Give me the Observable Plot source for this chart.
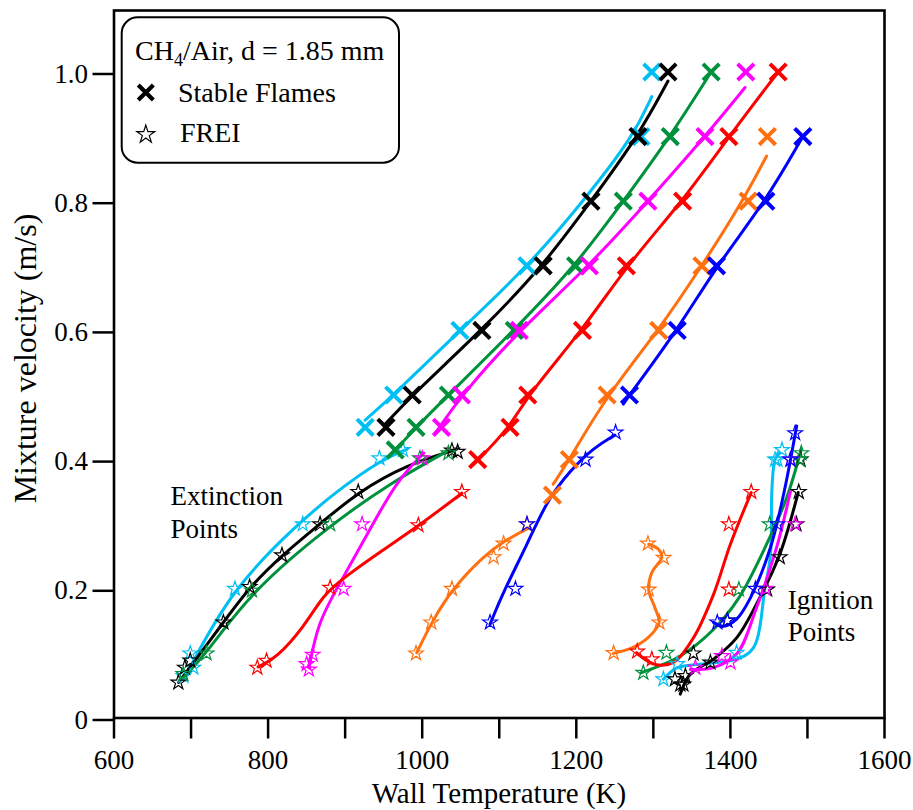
<!DOCTYPE html>
<html><head><meta charset="utf-8">
<script src="https://cdn.jsdelivr.net/npm/d3@7"></script>
<script src="https://cdn.jsdelivr.net/npm/@observablehq/plot@0.6"></script>
<style>body{margin:0;background:#fff}#chart{width:913px;height:810px}</style>
</head><body><div id="chart"></div>
<script>
// ---------- data (Wall temperature K, mixture velocity m/s) ----------
const series = ["s1","s2","s3","s4","s5","s6","s7"];
const seriesColor = ["#00bff2","#000000","#00913c","#ff00ff","#ff0000","#ff7010","#0000ff"];

const xTicks = [600,700,800,900,1000,1100,1200,1300,1400,1500,1600];
const xTickLabels = [600,800,1000,1200,1400,1600];
const yTicks = [0,0.2,0.4,0.6,0.8,1.0];

const stableFlames = [
 ["s1",926,0.45],["s1",963,0.5],["s1",1049,0.6],["s1",1136,0.7],["s1",1284,0.9],["s1",1298,1.0],
 ["s2",953,0.45],["s2",987,0.5],["s2",1077.5,0.6],["s2",1157,0.7],["s2",1219,0.8],["s2",1280,0.9],["s2",1319,1.0],
 ["s3",965,0.415],["s3",992,0.45],["s3",1034,0.5],["s3",1119.5,0.6],["s3",1199,0.7],["s3",1261,0.8],["s3",1322,0.9],["s3",1375,1.0],
 ["s4",1025,0.45],["s4",1051,0.5],["s4",1126,0.6],["s4",1217,0.7],["s4",1293,0.8],["s4",1367,0.9],["s4",1420,1.0],
 ["s5",1072,0.4],["s5",1114,0.45],["s5",1137,0.5],["s5",1208,0.6],["s5",1265,0.7],["s5",1338,0.8],["s5",1398,0.9],["s5",1462,1.0],
 ["s6",1169,0.345],["s6",1191,0.4],["s6",1240,0.5],["s6",1307,0.6],["s6",1363,0.7],["s6",1423,0.8],["s6",1448,0.9],
 ["s7",1269,0.5],["s7",1331,0.6],["s7",1382,0.7],["s7",1446,0.8],["s7",1494,0.9]
];

const stableFits = [
 ["s1",926,0.461],["s1",963,0.5],["s1",1049,0.6],["s1",1138,0.7],["s1",1209,0.8],["s1",1274,0.9],["s1",1298,0.962],
 ["s2",952,0.455],["s2",987,0.5],["s2",1077,0.6],["s2",1157,0.7],["s2",1219,0.8],["s2",1280,0.9],["s2",1319,0.986],
 ["s3",960,0.408],["s3",992,0.45],["s3",1034,0.5],["s3",1119,0.6],["s3",1199,0.7],["s3",1261,0.8],["s3",1322,0.9],["s3",1375,1.0],
 ["s4",1017,0.441],["s4",1051,0.5],["s4",1126,0.6],["s4",1217,0.7],["s4",1293,0.8],["s4",1367,0.9],["s4",1419,0.976],
 ["s5",1067,0.393],["s5",1114,0.45],["s5",1137,0.5],["s5",1208,0.6],["s5",1265,0.7],["s5",1338,0.8],["s5",1398,0.9],["s5",1462,1.0],
 ["s6",1170,0.362],["s6",1191,0.4],["s6",1240,0.5],["s6",1307,0.6],["s6",1363,0.7],["s6",1416,0.8],["s6",1447,0.87],
 ["s7",1261,0.486],["s7",1269,0.5],["s7",1331,0.6],["s7",1382,0.7],["s7",1446,0.8],["s7",1494,0.9]
];

const extinctionPoints = [
 ["s1",690,0.065],["s1",699,0.1],["s1",703,0.078],["s1",757,0.2],["s1",845,0.3],["s1",944.5,0.402],["s1",975,0.415],
 ["s2",683.5,0.055],["s2",692,0.078],["s2",699,0.089],["s2",742,0.148],["s2",776,0.203],["s2",818,0.252],["s2",867.5,0.3],["s2",917,0.35],["s2",1038.6,0.414],["s2",1046,0.412],
 ["s3",690,0.068],["s3",720,0.1],["s3",779,0.1975],["s3",880.5,0.3],["s3",997,0.402],["s3",1034,0.41],
 ["s4",850,0.0835],["s4",853,0.075],["s4",858,0.098],["s4",898,0.2],["s4",922,0.3],["s4",1000,0.402],
 ["s5",786,0.078],["s5",798,0.0886],["s5",880.5,0.2017],["s5",995,0.2986],["s5",1051.5,0.35],
 ["s6",992,0.1],["s6",1011.7,0.148],["s6",1038.6,0.2],["s6",1092.6,0.249],["s6",1105.6,0.27],["s6",1136,0.3],
 ["s7",1088,0.148],["s7",1121,0.2],["s7",1136,0.3],["s7",1212,0.4],["s7",1251,0.442]
];

const extinctionFits = [
 ["s1",694,0.068],["s1",753,0.2],["s1",838,0.3],["s1",890,0.352],["s1",946,0.399],["s1",980,0.416],
 ["s2",684,0.055],["s2",742,0.148],["s2",776,0.203],["s2",818,0.252],["s2",867,0.3],["s2",917,0.35],["s2",980,0.392],["s2",1040,0.414],
 ["s3",688,0.06],["s3",720,0.1],["s3",779,0.197],["s3",880,0.298],["s3",960,0.365],["s3",1034,0.414],
 ["s4",853,0.078],["s4",865,0.148],["s4",889,0.2],["s4",936,0.3],["s4",967,0.367],["s4",1002,0.41],
 ["s5",787,0.079],["s5",811,0.093],["s5",846,0.14],["s5",872,0.191],["s5",898,0.217],["s5",950,0.261],["s5",995,0.297],["s5",1051.5,0.348],
 ["s6",993,0.101],["s6",1012,0.148],["s6",1039,0.2],["s6",1079,0.25],["s6",1106,0.274],["s6",1140,0.295],
 ["s7",1088,0.145],["s7",1106,0.197],["s7",1136,0.268],["s7",1162,0.337],["s7",1192,0.383],["s7",1222,0.418],["s7",1250,0.438]
];

const ignitionPoints = [
 ["s1",1313,0.06],["s1",1331,0.0835],["s1",1408,0.101],["s1",1458,0.4],["s1",1461,0.4],["s1",1467,0.415],
 ["s2",1328,0.06],["s2",1335,0.052],["s2",1339,0.052],["s2",1341.6,0.065],["s2",1352,0.1],["s2",1374,0.086],["s2",1396,0.151],["s2",1447.6,0.199],["s2",1464,0.249],["s2",1485.7,0.3],["s2",1488.7,0.35],["s2",1491,0.4],
 ["s3",1287,0.07],["s3",1317,0.101],["s3",1411,0.199],["s3",1451,0.3],["s3",1490,0.4],["s3",1492,0.41],
 ["s4",1354.5,0.078],["s4",1389,0.096],["s4",1400,0.086],["s4",1445.5,0.2],["s4",1484,0.3],["s4",1478,0.4],
 ["s5",1279,0.103],["s5",1298,0.091],["s5",1398,0.199],["s5",1398,0.3],["s5",1427,0.35],
 ["s6",1248.5,0.1006],["s6",1307.8,0.148],["s6",1294,0.199],["s6",1313.4,0.248],["s6",1293,0.27],
 ["s7",1383,0.148],["s7",1396,0.151],["s7",1432.5,0.2],["s7",1461,0.3],["s7",1478,0.4],["s7",1484,0.441]
];

const ignitionFits = [
 ["s1",1313,0.06],["s1",1331,0.078],["s1",1357,0.083],["s1",1408,0.091],["s1",1430,0.109],["s1",1445,0.202],["s1",1452,0.253],["s1",1454,0.357],["s1",1458,0.4],["s1",1464,0.411],
 ["s2",1335,0.037],["s2",1348,0.068],["s2",1378,0.091],["s2",1408,0.124],["s2",1438,0.186],["s2",1464,0.253],["s2",1488,0.349],
 ["s3",1284,0.07],["s3",1335,0.096],["s3",1378,0.137],["s3",1411,0.186],["s3",1447,0.269],["s3",1473,0.341],["s3",1492,0.416],
 ["s4",1348,0.075],["s4",1378,0.078],["s4",1408,0.099],["s4",1434,0.171],["s4",1460,0.264],["s4",1478,0.351],
 ["s5",1278,0.101],["s5",1302,0.083],["s5",1326,0.086],["s5",1352,0.124],["s5",1378,0.191],["s5",1400,0.269],["s5",1427,0.349],
 ["s6",1248,0.1],["s6",1276.5,0.111],["s6",1298,0.13],["s6",1307.5,0.148],["s6",1302,0.171],["s6",1294,0.198],["s6",1298,0.225],["s6",1311,0.249],["s6",1307,0.261],["s6",1294,0.269],
 ["s7",1378,0.148],["s7",1391,0.142],["s7",1408,0.153],["s7",1426,0.186],["s7",1452,0.264],["s7",1469,0.346],["s7",1486,0.452]
];

const annotations = [
 {label: "Extinction\nPoints", T: 673.3, v: 0.3649},
 {label: "Ignition\nPoints", T: 1474.5, v: 0.205}
];

const xLabel = "Wall Temperature (K)";
const yLabel = "Mixture velocity (m/s)";

// ---------- chart ----------
const FONT = "'Liberation Serif', 'Times New Roman', serif";
const X = d => d[1], Y = d => d[2], S = d => d[0];

const plot = Plot.plot({
  width: 913, height: 810,
  marginLeft: 113.5, marginRight: 29, marginTop: 10, marginBottom: 92.5,
  style: {fontFamily: FONT, fontSize: "27px", background: "white", color: "black", overflow: "visible"},
  x: {domain: [600, 1600]},
  y: {domain: [0, 1.0952]},
  color: {domain: series, range: seriesColor},
  marks: [
    Plot.axisX({ticks: xTicks, tickSize: 21, strokeWidth: 2.5, tickPadding: 11,
      tickFormat: d => xTickLabels.includes(d) ? String(d) : "", label: null, fontSize: 27}),
    Plot.axisY({ticks: yTicks, tickSize: 21, strokeWidth: 2.5, tickPadding: 5,
      tickFormat: d => d === 0 ? "0" : d.toFixed(1), label: null, fontSize: 27, dy: 2}),
    Plot.frame({stroke: "black", strokeWidth: 2.6}),
    Plot.line(stableFits, {x: X, y: Y, z: S, stroke: S, strokeWidth: 3, curve: "basis"}),
    Plot.line(extinctionFits, {x: X, y: Y, z: S, stroke: S, strokeWidth: 3, curve: "basis"}),
    Plot.line(ignitionFits, {x: X, y: Y, z: S, stroke: S, strokeWidth: 3, curve: "catmull-rom"}),
    Plot.dot(extinctionPoints, {x: X, y: Y, stroke: S, symbol: "star", r: 4.6, strokeWidth: 1.2, fill: "none"}),
    Plot.dot(ignitionPoints, {x: X, y: Y, stroke: S, symbol: "star", r: 4.6, strokeWidth: 1.2, fill: "none"}),
    Plot.dot(stableFlames, {x: X, y: Y, stroke: S, symbol: "times", r: 7.5, strokeWidth: 4}),
    Plot.text(annotations, {x: "T", y: "v", text: "label", textAnchor: "start", lineAnchor: "top",
      fontSize: 27, lineHeight: 1.2, fill: "black"})
  ]
});
document.getElementById("chart").appendChild(plot);

const svg = d3.select(plot);

// ---------- axis titles ----------
svg.append("text").attr("x", 499).attr("y", 803).attr("text-anchor", "middle")
  .attr("font-family", FONT).attr("font-size", 29).attr("fill", "black").text(xLabel);
svg.append("text").attr("transform", "translate(36,358.5) rotate(-90)").attr("text-anchor", "middle")
  .attr("font-family", FONT).attr("font-size", 32).attr("fill", "black").text(yLabel);

// ---------- in-frame legend box ----------
const lg = svg.append("g").attr("font-family", FONT).attr("fill", "black").attr("text-anchor", "start");
lg.append("rect").attr("x", 121.7).attr("y", 17.3).attr("width", 277.3).attr("height", 145.4)
  .attr("rx", 16).attr("fill", "white").attr("stroke", "black").attr("stroke-width", 2);
const t1 = lg.append("text").attr("x", 135).attr("y", 60).attr("font-size", 28);
t1.append("tspan").text("CH");
t1.append("tspan").attr("font-size", 18).attr("dy", 6).text("4");
t1.append("tspan").attr("dy", -6).text("/Air, d = 1.85 mm");
lg.append("path").attr("transform", "translate(145.8,92.5)")
  .attr("d", d3.symbol(d3.symbolTimes, 150)()).attr("stroke", "black").attr("stroke-width", 4.2).attr("fill", "none");
lg.append("text").attr("x", 178).attr("y", 101.7).attr("font-size", 28).text("Stable Flames");
lg.append("path").attr("transform", "translate(145.8,134.5)")
  .attr("d", d3.symbol(d3.symbolStar, 100)()).attr("stroke", "black").attr("stroke-width", 1.2).attr("fill", "none");
lg.append("text").attr("x", 180).attr("y", 141.7).attr("font-size", 28).text("FREI");
</script>
</body></html>
